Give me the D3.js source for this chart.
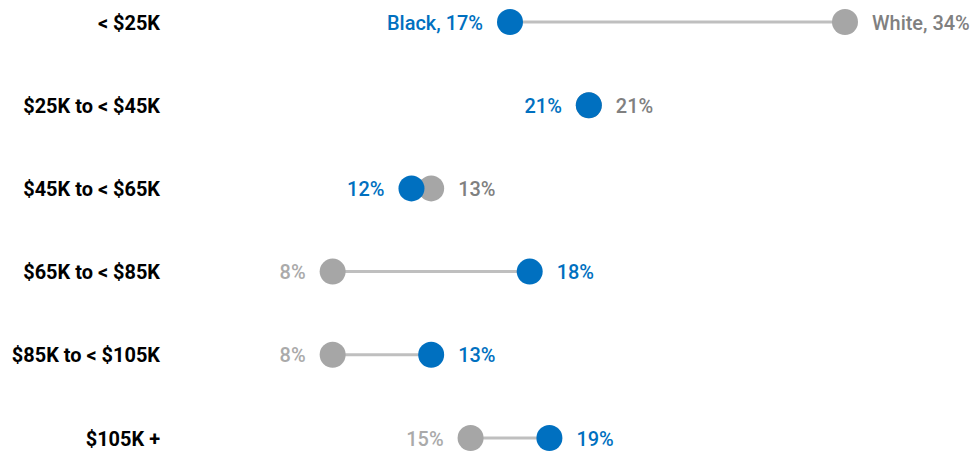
<!DOCTYPE html>
<html>
<head>
<script src="https://d3js.org/d3.v7.min.js"></script>
<style>
  body { margin: 0; background: #fff; }
  text { font-family: "Roboto", "Liberation Sans", sans-serif; }
</style>
</head>
<body>
<div id="chart"></div>
<script>
// income brackets and shares (percent)
var categories = ["< $25K", "$25K to < $45K", "$45K to < $65K", "$65K to < $85K", "$85K to < $105K", "$105K +"];
var black = [17, 21, 12, 18, 13, 19];
var white = [34, 21, 13, 8, 8, 15];

var width = 973, height = 451;
var blue = "#0070c0", grey = "#a6a6a6";
var squeeze = 0.95; // reference uses a condensed face

var svg = d3.select("#chart").append("svg")
    .attr("width", width)
    .attr("height", height);

// 0% sits at ~175px, 1% ~ 19.7px
var x = d3.scaleLinear().domain([0, 34]).range([175, 845]);
var y = d3.scalePoint().domain(categories).range([22, 438]);

var rows = categories.map(function(c, i) {
  return { cat: c, b: black[i], w: white[i], i: i };
});

function label(px, py, anchor, color, weight, str) {
  svg.append("text")
      .attr("transform", "translate(" + px + "," + py + ") scale(" + squeeze + ",1)")
      .attr("dy", "0.36em")
      .attr("text-anchor", anchor)
      .attr("font-size", 21)
      .attr("font-weight", weight)
      .attr("fill", color)
      .text(str);
}

rows.forEach(function(d) {
  label(160, y(d.cat), "end", "#000", 700, d.cat);
});

svg.selectAll(".link")
    .data(rows)
  .enter().append("line")
    .attr("x1", function(d) { return x(d.b); })
    .attr("x2", function(d) { return x(d.w); })
    .attr("y1", function(d) { return y(d.cat); })
    .attr("y2", function(d) { return y(d.cat); })
    .attr("stroke", "#bfbfbf")
    .attr("stroke-width", 3);

svg.selectAll(".wdot")
    .data(rows)
  .enter().append("circle")
    .attr("cx", function(d) { return x(d.w); })
    .attr("cy", function(d) { return y(d.cat); })
    .attr("r", 13)
    .attr("fill", grey);

svg.selectAll(".bdot")
    .data(rows)
  .enter().append("circle")
    .attr("cx", function(d) { return x(d.b); })
    .attr("cy", function(d) { return y(d.cat); })
    .attr("r", 13)
    .attr("fill", blue);

// labels: lower value goes left, higher goes right (blue left on ties)
var gap = 27;
rows.forEach(function(d) {
  var blackLeft = d.b <= d.w;
  var cy = y(d.cat);
  var bTxt = (d.i === 0 ? "Black, " : "") + d.b + "%";
  var wTxt = (d.i === 0 ? "White, " : "") + d.w + "%";
  label(x(d.b) + (blackLeft ? -gap : gap), cy, blackLeft ? "end" : "start", blue, 500, bTxt);
  label(x(d.w) + (blackLeft ? gap : -gap), cy, blackLeft ? "start" : "end",
        blackLeft ? "#808080" : "#aaaaaa", 500, wTxt);
});
</script>
</body>
</html>
